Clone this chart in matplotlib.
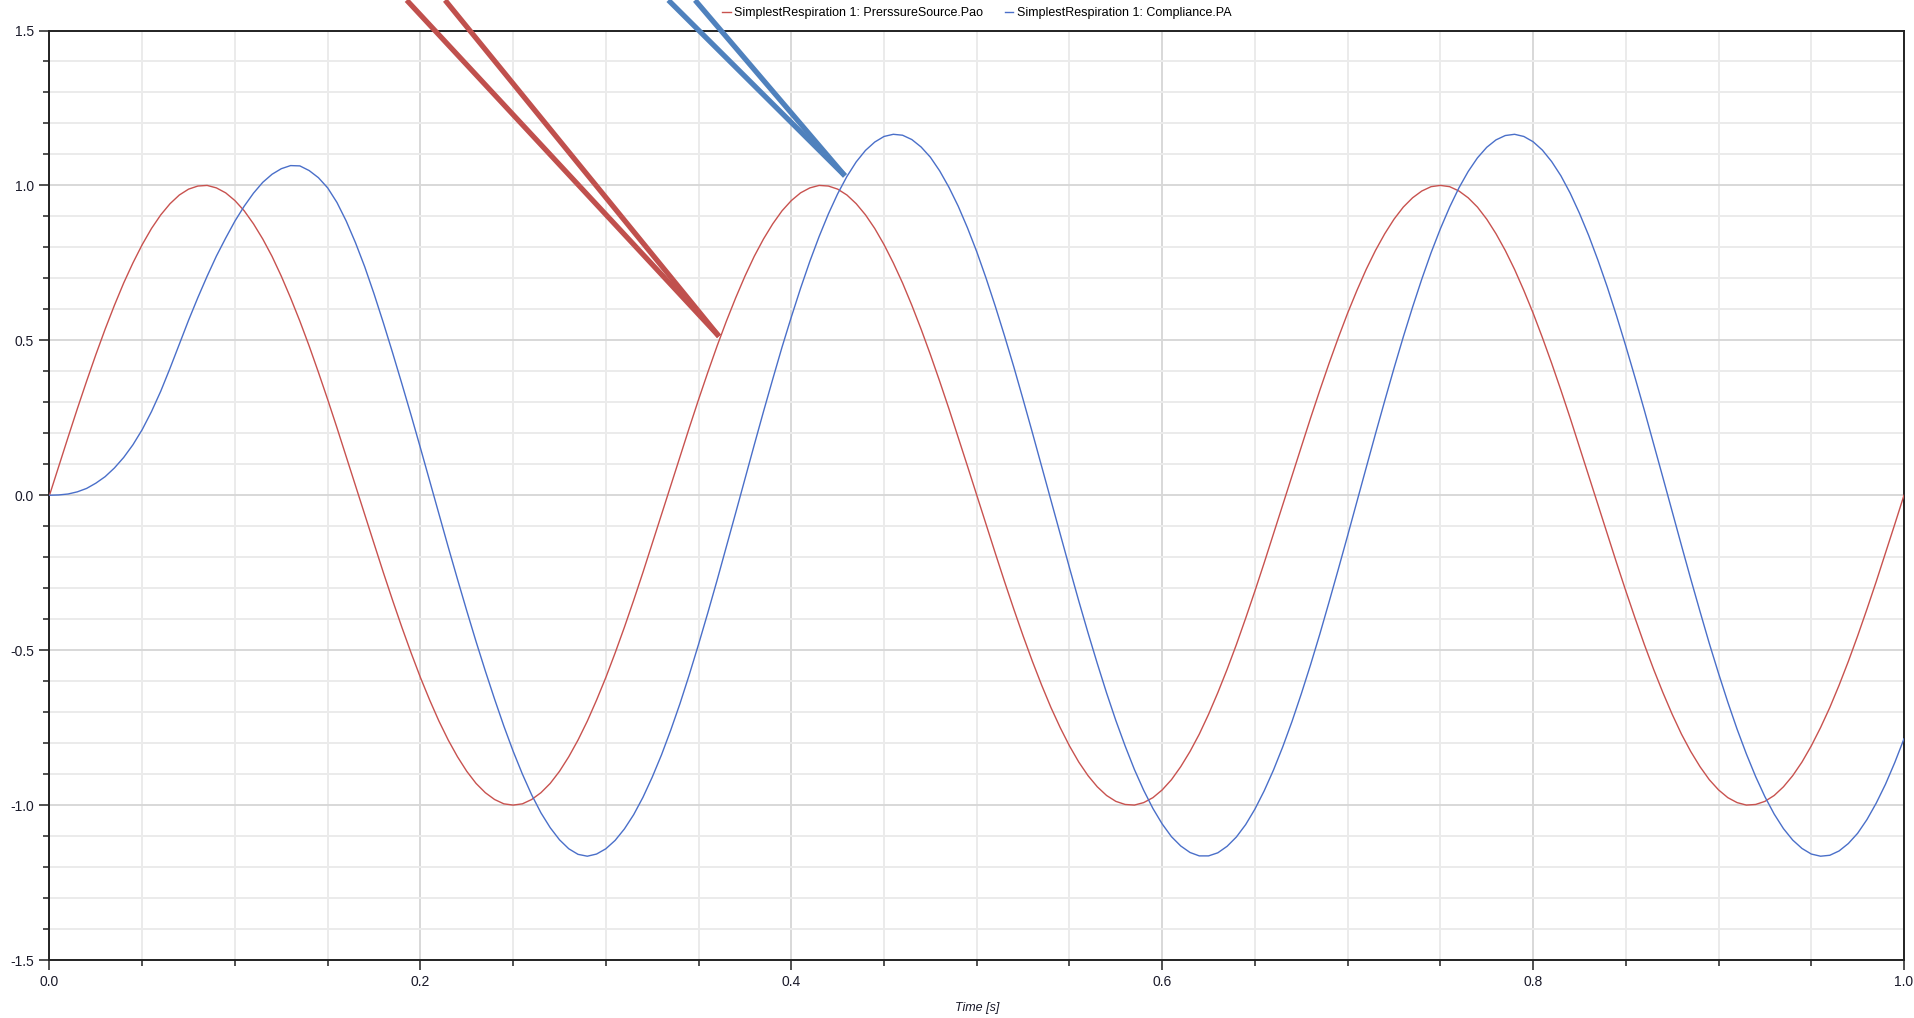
# plot.py
#
# SimplestRespiration 1: airway opening pressure (Pao) vs alveolar pressure (PA)
# over the first second of simulation, with the two hand-drawn pointer callouts.

import matplotlib
matplotlib.use("Agg")
import matplotlib.pyplot as plt
from matplotlib.ticker import MultipleLocator, FormatStrFormatter

time_s = [
    0.000, 0.005, 0.010, 0.015, 0.020, 0.025, 0.030, 0.035, 0.040, 0.045,
    0.050, 0.055, 0.060, 0.065, 0.070, 0.075, 0.080, 0.085, 0.090, 0.095,
    0.100, 0.105, 0.110, 0.115, 0.120, 0.125, 0.130, 0.135, 0.140, 0.145,
    0.150, 0.155, 0.160, 0.165, 0.170, 0.175, 0.180, 0.185, 0.190, 0.195,
    0.200, 0.205, 0.210, 0.215, 0.220, 0.225, 0.230, 0.235, 0.240, 0.245,
    0.250, 0.255, 0.260, 0.265, 0.270, 0.275, 0.280, 0.285, 0.290, 0.295,
    0.300, 0.305, 0.310, 0.315, 0.320, 0.325, 0.330, 0.335, 0.340, 0.345,
    0.350, 0.355, 0.360, 0.365, 0.370, 0.375, 0.380, 0.385, 0.390, 0.395,
    0.400, 0.405, 0.410, 0.415, 0.420, 0.425, 0.430, 0.435, 0.440, 0.445,
    0.450, 0.455, 0.460, 0.465, 0.470, 0.475, 0.480, 0.485, 0.490, 0.495,
    0.500, 0.505, 0.510, 0.515, 0.520, 0.525, 0.530, 0.535, 0.540, 0.545,
    0.550, 0.555, 0.560, 0.565, 0.570, 0.575, 0.580, 0.585, 0.590, 0.595,
    0.600, 0.605, 0.610, 0.615, 0.620, 0.625, 0.630, 0.635, 0.640, 0.645,
    0.650, 0.655, 0.660, 0.665, 0.670, 0.675, 0.680, 0.685, 0.690, 0.695,
    0.700, 0.705, 0.710, 0.715, 0.720, 0.725, 0.730, 0.735, 0.740, 0.745,
    0.750, 0.755, 0.760, 0.765, 0.770, 0.775, 0.780, 0.785, 0.790, 0.795,
    0.800, 0.805, 0.810, 0.815, 0.820, 0.825, 0.830, 0.835, 0.840, 0.845,
    0.850, 0.855, 0.860, 0.865, 0.870, 0.875, 0.880, 0.885, 0.890, 0.895,
    0.900, 0.905, 0.910, 0.915, 0.920, 0.925, 0.930, 0.935, 0.940, 0.945,
    0.950, 0.955, 0.960, 0.965, 0.970, 0.975, 0.980, 0.985, 0.990, 0.995,
    1.000,
]

pao = [
    0.000, 0.094, 0.187, 0.279, 0.368, 0.454, 0.536, 0.613, 0.685, 0.750,
    0.809, 0.861, 0.905, 0.941, 0.969, 0.988, 0.998, 1.000, 0.992, 0.976,
    0.951, 0.918, 0.876, 0.827, 0.771, 0.707, 0.637, 0.562, 0.482, 0.397,
    0.309, 0.218, 0.125, 0.031, -0.063, -0.156, -0.249, -0.339, -0.426, -0.509,
    -0.588, -0.661, -0.729, -0.790, -0.844, -0.891, -0.930, -0.960, -0.982, -0.996,
    -1.000, -0.996, -0.982, -0.960, -0.930, -0.891, -0.844, -0.790, -0.729, -0.661,
    -0.588, -0.509, -0.426, -0.339, -0.249, -0.156, -0.063, 0.031, 0.125, 0.218,
    0.309, 0.397, 0.482, 0.562, 0.637, 0.707, 0.771, 0.827, 0.876, 0.918,
    0.951, 0.976, 0.992, 1.000, 0.998, 0.988, 0.969, 0.941, 0.905, 0.861,
    0.809, 0.750, 0.685, 0.613, 0.536, 0.454, 0.368, 0.279, 0.187, 0.094,
    0.000, -0.094, -0.187, -0.279, -0.368, -0.454, -0.536, -0.613, -0.685, -0.750,
    -0.809, -0.861, -0.905, -0.941, -0.969, -0.988, -0.998, -1.000, -0.992, -0.976,
    -0.951, -0.918, -0.876, -0.827, -0.771, -0.707, -0.637, -0.562, -0.482, -0.397,
    -0.309, -0.218, -0.125, -0.031, 0.063, 0.156, 0.249, 0.339, 0.426, 0.509,
    0.588, 0.661, 0.729, 0.790, 0.844, 0.891, 0.930, 0.960, 0.982, 0.996,
    1.000, 0.996, 0.982, 0.960, 0.930, 0.891, 0.844, 0.790, 0.729, 0.661,
    0.588, 0.509, 0.426, 0.339, 0.249, 0.156, 0.063, -0.031, -0.125, -0.218,
    -0.309, -0.397, -0.482, -0.562, -0.637, -0.707, -0.771, -0.827, -0.876, -0.918,
    -0.951, -0.976, -0.992, -1.000, -0.998, -0.988, -0.969, -0.941, -0.905, -0.861,
    -0.809, -0.750, -0.685, -0.613, -0.536, -0.454, -0.368, -0.279, -0.187, -0.094,
    0.000,
]

pa = [
    0.000, 0.001, 0.004, 0.011, 0.022, 0.039, 0.060, 0.088, 0.122, 0.163,
    0.212, 0.270, 0.336, 0.410, 0.488, 0.565, 0.638, 0.707, 0.772, 0.830,
    0.885, 0.933, 0.975, 1.010, 1.036, 1.054, 1.064, 1.063, 1.048, 1.025,
    0.992, 0.945, 0.885, 0.815, 0.737, 0.650, 0.557, 0.460, 0.360, 0.258,
    0.153, 0.046, -0.061, -0.167, -0.271, -0.373, -0.472, -0.567, -0.658, -0.745,
    -0.826, -0.900, -0.967, -1.025, -1.073, -1.112, -1.141, -1.159, -1.165, -1.158,
    -1.141, -1.114, -1.077, -1.031, -0.975, -0.910, -0.838, -0.758, -0.672, -0.579,
    -0.481, -0.379, -0.274, -0.166, -0.057, 0.053, 0.162, 0.270, 0.375, 0.478,
    0.575, 0.668, 0.755, 0.835, 0.908, 0.973, 1.029, 1.076, 1.113, 1.140,
    1.158, 1.165, 1.162, 1.148, 1.124, 1.091, 1.047, 0.994, 0.933, 0.863,
    0.786, 0.701, 0.610, 0.514, 0.414, 0.309, 0.202, 0.093, -0.016, -0.126,
    -0.234, -0.341, -0.444, -0.543, -0.638, -0.727, -0.809, -0.885, -0.952, -1.011,
    -1.061, -1.102, -1.132, -1.153, -1.164, -1.164, -1.154, -1.133, -1.103, -1.063,
    -1.013, -0.954, -0.887, -0.812, -0.730, -0.641, -0.547, -0.448, -0.344, -0.238,
    -0.130, -0.020, 0.089, 0.198, 0.305, 0.410, 0.511, 0.607, 0.698, 0.783,
    0.860, 0.930, 0.992, 1.045, 1.089, 1.123, 1.147, 1.161, 1.165, 1.158,
    1.141, 1.114, 1.077, 1.031, 0.975, 0.910, 0.838, 0.758, 0.672, 0.579,
    0.481, 0.379, 0.274, 0.166, 0.057, -0.053, -0.162, -0.270, -0.375, -0.478,
    -0.575, -0.668, -0.755, -0.835, -0.908, -0.973, -1.029, -1.076, -1.113, -1.140,
    -1.158, -1.165, -1.162, -1.148, -1.124, -1.091, -1.047, -0.994, -0.933, -0.863,
    -0.786,
]

series_labels = [
    "SimplestRespiration 1: PrerssureSource.Pao",
    "SimplestRespiration 1: Compliance.PA",
]

# pointer callouts (two strokes each, meeting at the tip on the curve)
red_pointer_top_x = [0.1926, 0.2133]
red_pointer_top_y = [1.598, 1.598]
red_pointer_tip = (0.361, 0.513)

blue_pointer_top_x = [0.3337, 0.3481]
blue_pointer_top_y = [1.598, 1.598]
blue_pointer_tip = (0.4289, 1.031)

# ---- Style -------------------------------------------------------------

RED = "#c8524f"
BLUE = "#4a6fc9"
RED_PEN = "#c0504d"
BLUE_PEN = "#4f81bd"
FONT = ["Liberation Sans", "DejaVu Sans"]

plt.rcParams["font.family"] = FONT
plt.rcParams["axes.unicode_minus"] = False

W, H = 1915, 1018
fig = plt.figure(figsize=(W / 100, H / 100), dpi=100)
fig.patch.set_facecolor("white")

left, right, top, bottom = 49.5, 1904.0, 30.5, 960.0
ax = fig.add_axes([left / W, 1 - bottom / H, (right - left) / W, (bottom - top) / H])

# ---- Curves ------------------------------------------------------------

ax.plot(time_s, pao, color=RED, lw=1.0, label=series_labels[0], zorder=3)
ax.plot(time_s, pa, color=BLUE, lw=1.0, label=series_labels[1], zorder=3)

ax.set_xlim(0.0, 1.0)
ax.set_ylim(-1.5, 1.5)

# ---- Axes / grid -------------------------------------------------------

ax.xaxis.set_major_locator(MultipleLocator(0.2))
ax.xaxis.set_minor_locator(MultipleLocator(0.05))
ax.yaxis.set_major_locator(MultipleLocator(0.5))
ax.yaxis.set_minor_locator(MultipleLocator(0.1))
ax.xaxis.set_major_formatter(FormatStrFormatter("%.1f"))
ax.yaxis.set_major_formatter(FormatStrFormatter("%.1f"))

ax.grid(which="minor", color="#ebebeb", lw=1.4, zorder=0)
ax.grid(which="major", color="#d8d8d8", lw=1.4, zorder=0)
ax.set_axisbelow(True)

ax.tick_params(which="major", direction="out", length=7, width=1.1,
               color="#222222", labelsize=10, pad=4, labelcolor="#1a1a2a")
ax.tick_params(which="minor", direction="out", length=4, width=1.1,
               color="#222222")
ax.tick_params(top=False, right=False, which="both")

for sp in ax.spines.values():
    sp.set_color("#222222")
    sp.set_linewidth(1.4)

ax.set_xlabel("Time [s]", fontsize=9, style="italic", color="#1a1a2a", labelpad=9)

# ---- Legend ------------------------------------------------------------

ax.legend(loc="center left", bbox_to_anchor=(0.3625, 1.0185), ncol=2,
          frameon=False, borderpad=0, borderaxespad=0, handlelength=0.7,
          handletextpad=0.3, columnspacing=1.7,
          prop={"family": FONT, "size": 9})

# ---- Pointer callouts --------------------------------------------------

for xs, ys, tip, col in [
    (red_pointer_top_x, red_pointer_top_y, red_pointer_tip, RED_PEN),
    (blue_pointer_top_x, blue_pointer_top_y, blue_pointer_tip, BLUE_PEN),
]:
    for x0, y0 in zip(xs, ys):
        ax.plot([x0, tip[0]], [y0, tip[1]], color=col, lw=3.8,
                solid_capstyle="butt", clip_on=False, zorder=5)

fig.savefig("out.png", dpi=100, facecolor="white")
